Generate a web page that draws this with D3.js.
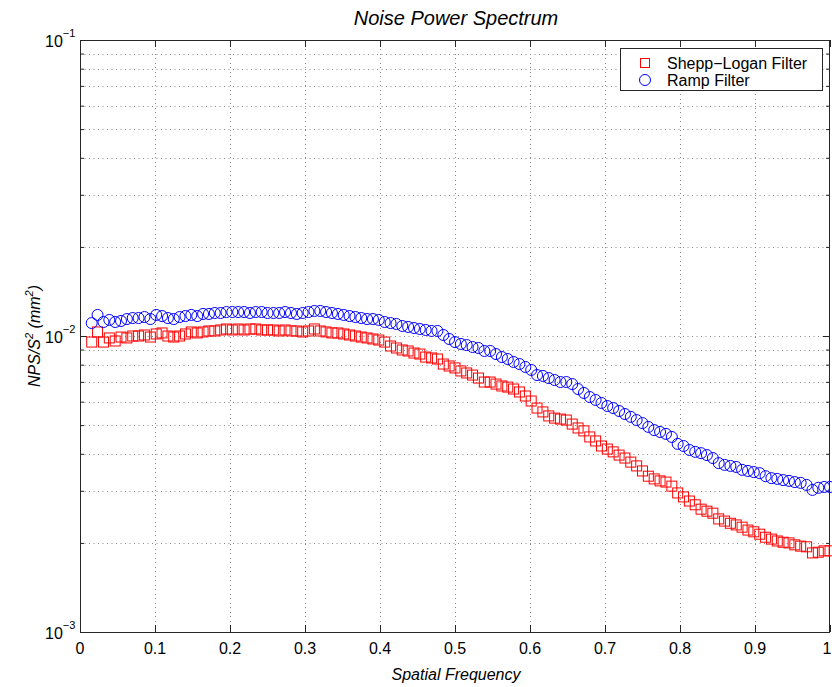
<!DOCTYPE html>
<html>
<head>
<meta charset="utf-8">
<script src="https://cdn.jsdelivr.net/npm/d3@7"></script>
<style>
  html, body { margin: 0; padding: 0; background: #fff; }
  svg { display: block; }
  text { font-family: "Liberation Sans", Arial, Helvetica, sans-serif; fill: #000; }
</style>
</head>
<body>
<svg id="chart" width="832" height="687"></svg>
<script>
// ---------------- data ----------------
const titleText = "Noise Power Spectrum";
const xLabelText = "Spatial Frequency";
const seriesNames = ["Shepp\u2212Logan Filter", "Ramp Filter"];
const xTickValues = [0, 0.1, 0.2, 0.3, 0.4, 0.5, 0.6, 0.7, 0.8, 0.9, 1];
const xTickLabels = ["0", "0.1", "0.2", "0.3", "0.4", "0.5", "0.6", "0.7", "0.8", "0.9", "1"];
const yTickValues = [0.001, 0.01, 0.1];
const yTickExponents = ["\u22123", "\u22122", "\u22121"];

const frequency = [
  0.0156, 0.0234, 0.0313, 0.0391, 0.0469, 0.0547, 0.0625, 0.0703, 0.0781, 0.0859,
  0.0938, 0.1016, 0.1094, 0.1172, 0.1250, 0.1328, 0.1406, 0.1484, 0.1563, 0.1641,
  0.1719, 0.1797, 0.1875, 0.1953, 0.2031, 0.2109, 0.2188, 0.2266, 0.2344, 0.2422,
  0.2500, 0.2578, 0.2656, 0.2734, 0.2813, 0.2891, 0.2969, 0.3047, 0.3125, 0.3203,
  0.3281, 0.3359, 0.3438, 0.3516, 0.3594, 0.3672, 0.3750, 0.3828, 0.3906, 0.3984,
  0.4063, 0.4141, 0.4219, 0.4297, 0.4375, 0.4453, 0.4531, 0.4609, 0.4688, 0.4766,
  0.4844, 0.4922, 0.5000, 0.5078, 0.5156, 0.5234, 0.5313, 0.5391, 0.5469, 0.5547,
  0.5625, 0.5703, 0.5781, 0.5859, 0.5938, 0.6016, 0.6094, 0.6172, 0.6250, 0.6328,
  0.6406, 0.6484, 0.6563, 0.6641, 0.6719, 0.6797, 0.6875, 0.6953, 0.7031, 0.7109,
  0.7188, 0.7266, 0.7344, 0.7422, 0.7500, 0.7578, 0.7656, 0.7734, 0.7813, 0.7891,
  0.7969, 0.8047, 0.8125, 0.8203, 0.8281, 0.8359, 0.8438, 0.8516, 0.8594, 0.8672,
  0.8750, 0.8828, 0.8906, 0.8984, 0.9063, 0.9141, 0.9219, 0.9297, 0.9375, 0.9453,
  0.9531, 0.9609, 0.9688, 0.9766, 0.9844, 0.9922, 1.0000
];

const sheppLogan = [
  0.00954, 0.01032, 0.00954, 0.00985, 0.00962, 0.00992, 0.00985, 0.01000, 0.01000, 0.01008,
  0.00992, 0.01016, 0.01024, 0.01000, 0.00992, 0.01000, 0.01016, 0.01032, 0.01024, 0.01032,
  0.01040, 0.01040, 0.01048, 0.01056, 0.01048, 0.01056, 0.01048, 0.01056, 0.01056, 0.01048,
  0.01048, 0.01048, 0.01040, 0.01048, 0.01040, 0.01040, 0.01032, 0.01040, 0.01056, 0.01040,
  0.01032, 0.01024, 0.01024, 0.01016, 0.01008, 0.01000, 0.00992, 0.00985, 0.00977, 0.00969,
  0.00954, 0.00925, 0.00911, 0.00897, 0.00890, 0.00876, 0.00869, 0.00849, 0.00843, 0.00836,
  0.00804, 0.00792, 0.00780, 0.00762, 0.00750, 0.00738, 0.00721, 0.00699, 0.00699, 0.00688,
  0.00678, 0.00672, 0.00662, 0.00647, 0.00627, 0.00603, 0.00571, 0.00554, 0.00537, 0.00528,
  0.00524, 0.00520, 0.00504, 0.00489, 0.00478, 0.00456, 0.00442, 0.00425, 0.00415, 0.00406,
  0.00396, 0.00387, 0.00375, 0.00364, 0.00350, 0.00336, 0.00329, 0.00324, 0.00321, 0.00311,
  0.00295, 0.00286, 0.00277, 0.00269, 0.00260, 0.00256, 0.00252, 0.00241, 0.00237, 0.00233,
  0.00230, 0.00226, 0.00221, 0.00218, 0.00214, 0.00209, 0.00206, 0.00203, 0.00201, 0.00200,
  0.00197, 0.00195, 0.00194, 0.00185, 0.00186, 0.00188, 0.00188
];

const ramp = [
  0.01106, 0.01178, 0.01115, 0.01133, 0.01115, 0.01124, 0.01141, 0.01150, 0.01150, 0.01159,
  0.01141, 0.01178, 0.01168, 0.01150, 0.01141, 0.01159, 0.01168, 0.01178, 0.01168, 0.01187,
  0.01187, 0.01196, 0.01196, 0.01205, 0.01205, 0.01205, 0.01205, 0.01196, 0.01205, 0.01205,
  0.01196, 0.01196, 0.01196, 0.01205, 0.01196, 0.01187, 0.01196, 0.01205, 0.01215, 0.01215,
  0.01205, 0.01196, 0.01187, 0.01178, 0.01168, 0.01159, 0.01150, 0.01141, 0.01141, 0.01133,
  0.01115, 0.01106, 0.01098, 0.01081, 0.01073, 0.01064, 0.01056, 0.01048, 0.01040, 0.01040,
  0.01008, 0.00977, 0.00954, 0.00940, 0.00932, 0.00918, 0.00911, 0.00890, 0.00890, 0.00869,
  0.00849, 0.00836, 0.00817, 0.00804, 0.00786, 0.00768, 0.00738, 0.00733, 0.00721, 0.00710,
  0.00699, 0.00699, 0.00688, 0.00662, 0.00642, 0.00622, 0.00608, 0.00594, 0.00580, 0.00571,
  0.00558, 0.00545, 0.00533, 0.00520, 0.00508, 0.00493, 0.00481, 0.00474, 0.00467, 0.00456,
  0.00432, 0.00425, 0.00412, 0.00406, 0.00402, 0.00396, 0.00387, 0.00372, 0.00367, 0.00364,
  0.00361, 0.00353, 0.00350, 0.00347, 0.00344, 0.00336, 0.00331, 0.00329, 0.00326, 0.00324,
  0.00321, 0.00319, 0.00314, 0.00302, 0.00307, 0.00309, 0.00309
];

// ---------------- layout ----------------
const W = 832, H = 687;
const plot = { left: 80, right: 830, top: 40, bottom: 632 };
const axisColor = "#262626";
const gridColor = "#8a8a8a";
const redColor = "#ff0000";
const blueColor = "#0000ff";

const svg = d3.select("#chart");

const x = d3.scaleLinear().domain([0, 1]).range([plot.left, plot.right]);
const y = d3.scaleLog().domain([0.001, 0.1]).range([plot.bottom, plot.top]);

// minor log values for grid / ticks
const yMinor = [];
[0.001, 0.01].forEach(d => { for (let m = 2; m <= 9; m++) yMinor.push(d * m); });
const yGridVals = yMinor.concat([0.01]);

// grid
const grid = svg.append("g").attr("class", "grid");
grid.selectAll("line.gx").data(xTickValues.filter(v => v > 0 && v < 1)).join("line")
  .attr("x1", d => x(d)).attr("x2", d => x(d))
  .attr("y1", plot.top).attr("y2", plot.bottom)
  .attr("stroke", gridColor).attr("stroke-width", 1)
  .attr("stroke-dasharray", "1,3.5").attr("shape-rendering", "crispEdges");
grid.selectAll("line.gy").data(yGridVals).join("line")
  .attr("x1", plot.left).attr("x2", plot.right)
  .attr("y1", d => Math.round(y(d)) + 0.5).attr("y2", d => Math.round(y(d)) + 0.5)
  .attr("stroke", gridColor).attr("stroke-width", 1)
  .attr("stroke-dasharray", "1,3.5");

// axes with inward ticks via d3 axes
const xAxisB = d3.axisBottom(x).tickValues(xTickValues).tickSize(-7).tickFormat(() => "");
const xAxisT = d3.axisTop(x).tickValues(xTickValues).tickSize(-7).tickFormat(() => "");
const yAxisL = d3.axisLeft(y).tickValues(yTickValues).tickSize(-7).tickFormat(() => "");
const yAxisR = d3.axisRight(y).tickValues(yTickValues).tickSize(-7).tickFormat(() => "");
const yAxisLm = d3.axisLeft(y).tickValues(yMinor).tickSize(-4).tickFormat(() => "");
const yAxisRm = d3.axisRight(y).tickValues(yMinor).tickSize(-4).tickFormat(() => "");

function styleAxis(g) {
  g.select(".domain").remove();
  g.selectAll("line").attr("stroke", axisColor).attr("stroke-width", 1);
}
svg.append("g").attr("transform", `translate(0,${plot.bottom})`).call(xAxisB).call(styleAxis);
svg.append("g").attr("transform", `translate(0,${plot.top})`).call(xAxisT).call(styleAxis);
svg.append("g").attr("transform", `translate(${plot.left},0)`).call(yAxisL).call(styleAxis);
svg.append("g").attr("transform", `translate(${plot.right},0)`).call(yAxisR).call(styleAxis);
svg.append("g").attr("transform", `translate(${plot.left},0)`).call(yAxisLm).call(styleAxis);
svg.append("g").attr("transform", `translate(${plot.right},0)`).call(yAxisRm).call(styleAxis);

// frame
svg.append("rect")
  .attr("x", plot.left + 0.5).attr("y", plot.top + 0.5)
  .attr("width", plot.right - plot.left - 1).attr("height", plot.bottom - plot.top)
  .attr("fill", "none").attr("stroke", axisColor).attr("stroke-width", 1);

// tick labels
svg.append("g").selectAll("text").data(xTickValues).join("text")
  .attr("x", d => Math.min(x(d), W - 5)).attr("y", plot.bottom + 22)
  .attr("text-anchor", "middle").attr("font-size", 16)
  .text((d, i) => xTickLabels[i]);

const yl = svg.append("g").selectAll("text").data(yTickValues).join("text")
  .attr("x", 45).attr("y", d => y(d) + 7)
  .attr("text-anchor", "start").attr("font-size", 16);
yl.append("tspan").text("10");
yl.append("tspan").attr("font-size", 11).attr("dy", -10).text((d, i) => yTickExponents[i]);

// markers: squares (Shepp-Logan) first, then circles (Ramp)
const sq = 10;
svg.append("g").selectAll("rect").data(frequency).join("rect")
  .attr("x", (d, i) => x(d) - sq / 2).attr("y", (d, i) => y(sheppLogan[i]) - sq / 2)
  .attr("width", sq).attr("height", sq)
  .attr("fill", "none").attr("stroke", redColor).attr("stroke-width", 1);

svg.append("g").selectAll("circle").data(frequency).join("circle")
  .attr("cx", d => x(d)).attr("cy", (d, i) => y(ramp[i]))
  .attr("r", 5.5)
  .attr("fill", "none").attr("stroke", blueColor).attr("stroke-width", 1);

// title and labels
svg.append("text").attr("x", 456).attr("y", 25)
  .attr("text-anchor", "middle").attr("font-size", 20).attr("font-style", "italic")
  .text(titleText);

svg.append("text").attr("x", 456).attr("y", 680)
  .attr("text-anchor", "middle").attr("font-size", 16).attr("font-style", "italic")
  .text(xLabelText);

const ylab = svg.append("text")
  .attr("transform", `translate(40,${(plot.top + plot.bottom) / 2}) rotate(-90)`)
  .attr("text-anchor", "middle").attr("font-size", 16).attr("font-style", "italic");
ylab.append("tspan").text("NPS/S");
ylab.append("tspan").attr("font-size", 11).attr("dy", -7).text("2");
ylab.append("tspan").attr("dy", 7).text(" (mm");
ylab.append("tspan").attr("font-size", 11).attr("dy", -7).text("2");
ylab.append("tspan").attr("dy", 7).text(")");

// legend
const leg = svg.append("g");
leg.append("rect").attr("x", 620.5).attr("y", 48.5).attr("width", 202).attr("height", 42)
  .attr("fill", "#fff").attr("stroke", axisColor).attr("stroke-width", 1);
leg.append("rect").attr("x", 645 - 4.5).attr("y", 63 - 4.5).attr("width", 9).attr("height", 9)
  .attr("fill", "none").attr("stroke", redColor).attr("stroke-width", 1);
leg.append("circle").attr("cx", 645).attr("cy", 80).attr("r", 5.5)
  .attr("fill", "none").attr("stroke", blueColor).attr("stroke-width", 1);
leg.append("text").attr("x", 667).attr("y", 69).attr("font-size", 16).text(seriesNames[0]);
leg.append("text").attr("x", 667).attr("y", 86).attr("font-size", 16).text(seriesNames[1]);
</script>
</body>
</html>
